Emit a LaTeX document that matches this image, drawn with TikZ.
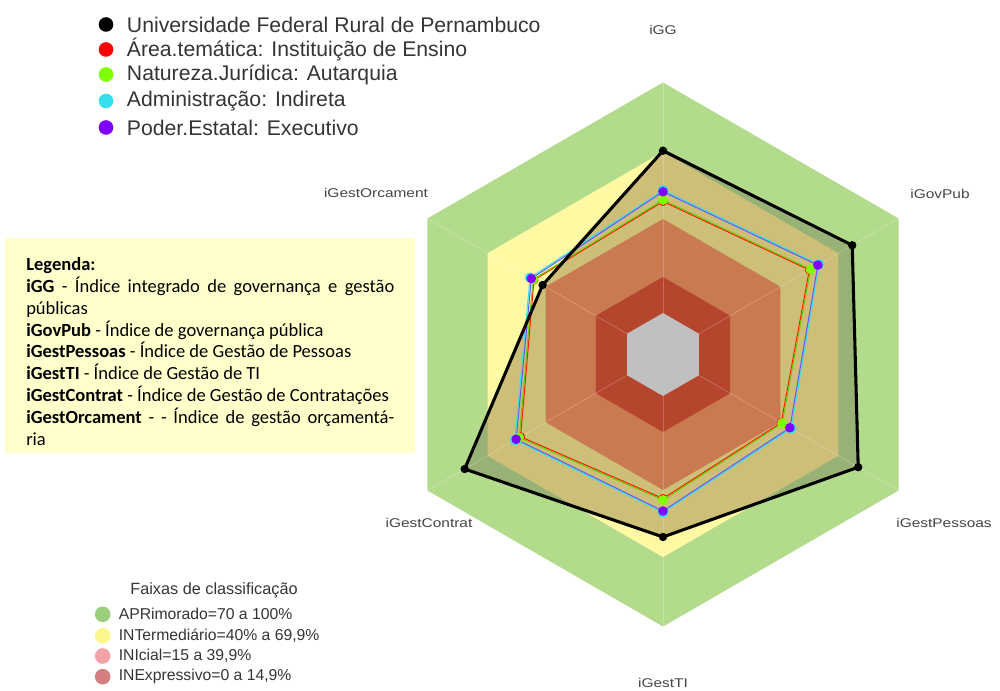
\documentclass[tikz,border=0pt]{standalone}
\usepackage{fontspec}
\setmainfont{Liberation Sans}
\newfontfamily\carlito{Carlito}
\definecolor{ringgreen}{HTML}{B2DC8C}
\definecolor{ringyellow}{HTML}{FFF9A3}
\definecolor{khaki}{HTML}{CDBE78}
\definecolor{darkgreen}{HTML}{97B274}
\definecolor{ringorange}{HTML}{C97A50}
\definecolor{ringred}{HTML}{B5452C}
\definecolor{ringgray}{HTML}{C0C0C0}
\definecolor{serred}{HTML}{FF0000}
\definecolor{serlime}{HTML}{80FF00}
\definecolor{sercyan}{HTML}{33E0F0}
\definecolor{serpurple}{HTML}{8000FF}
\definecolor{boxyellow}{HTML}{FFFFCC}
\definecolor{txtgray}{HTML}{353535}
\definecolor{labgray}{HTML}{454545}
\definecolor{legA}{HTML}{9CCF7C}
\definecolor{legB}{HTML}{FBF78C}
\definecolor{legC}{HTML}{F3A3A8}
\definecolor{legD}{HTML}{D57E82}
\newcommand{\myhex}[1]{(-90:#1) -- (-30:#1) -- (30:#1) -- (90:#1) -- (150:#1) -- (210:#1) -- cycle}
\tikzset{
  axlab/.style={font=\fontsize{9.5}{11}\selectfont, text=labgray, inner sep=0pt},
  toplab/.style={font=\fontsize{15.9}{18}\selectfont, text=txtgray, inner sep=0pt, anchor=west},
  botlab/.style={font=\fontsize{11.8}{14}\selectfont, text=txtgray, inner sep=0pt, anchor=west},
  thinser/.style={line width=0.75pt, line join=round},
  blackser/.style={line width=2.3pt, line join=round, black},
}
\begin{document}
\begin{tikzpicture}[x=0.75pt,y=-0.75pt]
\useasboundingbox (0,0) rectangle (1000,691);
\fill[white] (0,0) rectangle (1000,691);

% ---------------- radar ----------------
\begin{scope}[shift={(663,354.5)}]
  % data points
  \coordinate (b1) at (-90:203.8); \coordinate (b2) at (-30:218.5); \coordinate (b3) at (30:225.4);
  \coordinate (b4) at (90:182.5);  \coordinate (b5) at (150:229);   \coordinate (b6) at (210:139);
  \coordinate (p1) at (-90:162.8); \coordinate (p2) at (-30:178.8); \coordinate (p3) at (30:146.5);
  \coordinate (p4) at (90:156.5);  \coordinate (p5) at (150:169.5); \coordinate (p6) at (210:152);
  \coordinate (c1) at (-90:164.3); \coordinate (c2) at (-30:180.3); \coordinate (c3) at (30:148);
  \coordinate (c4) at (90:158);    \coordinate (c5) at (150:171);   \coordinate (c6) at (210:153.5);
  \coordinate (g1) at (-90:154.5); \coordinate (g2) at (-30:170.3); \coordinate (g3) at (30:137.6);
  \coordinate (g4) at (90:145.5);  \coordinate (g5) at (150:166);   \coordinate (g6) at (210:150);
  \coordinate (r1) at (-90:153);   \coordinate (r2) at (-30:169);   \coordinate (r3) at (30:136.5);
  \coordinate (r4) at (90:144);    \coordinate (r5) at (150:164.5); \coordinate (r6) at (210:149);

  \fill[ringgreen] \myhex{272};
  \fill[ringyellow] \myhex{202.6};
  \begin{scope}
    \clip (b1) -- (b2) -- (b3) -- (b4) -- (b5) -- (b6) -- cycle;
    \fill[darkgreen] \myhex{272};
    \fill[khaki] \myhex{202.6};
  \end{scope}
  \fill[ringorange] \myhex{135.5};
  \fill[ringred] \myhex{77.5};
  \fill[ringgray] \myhex{41.5};
  \foreach \a in {-90,-30,30,90,150,210}
    \draw[white, opacity=0.22, line width=0.6pt] (\a:41.5) -- (\a:272);

  % series lines
  \draw[thinser, serred!80!orange] (r1) -- (r2) -- (r3) -- (r4) -- (r5) -- (r6) -- cycle;
  \draw[thinser, serlime!80!black] (g1) -- (g2) -- (g3) -- (g4) -- (g5) -- (g6) -- cycle;
  \draw[thinser, sercyan] (c1) -- (c2) -- (c3) -- (c4) -- (c5) -- (c6) -- cycle;
  \draw[thinser, serpurple!60!sercyan] (p1) -- (p2) -- (p3) -- (p4) -- (p5) -- (p6) -- cycle;
  \draw[blackser] (b1) -- (b2) -- (b3) -- (b4) -- (b5) -- (b6) -- cycle;

  % series markers
  \foreach \n in {r1,r2,r3,r4,r5,r6} \fill[serred] (\n) circle (4.5);
  \foreach \n in {g1,g2,g3,g4,g5,g6} \fill[serlime] (\n) circle (5);
  \foreach \n in {c1,c2,c3,c4,c5,c6} \fill[sercyan] (\n) circle (5.3);
  \foreach \n in {p1,p2,p3,p4,p5,p6} \fill[serpurple] (\n) circle (4.8);
  \foreach \n in {b1,b2,b3,b4,b5,b6} \fill[black] (\n) circle (4.2);
\end{scope}

% axis labels
\node[axlab] (lGG) at (663,30) {\scalebox{1.22}[1]{iGG}};
\node[axlab] (lGov) at (940,194) {\scalebox{1.22}[1]{iGovPub}};
\node[axlab] (lPes) at (944,523) {\scalebox{1.22}[1]{iGestPessoas}};
\node[axlab] (lTI) at (663,683) {\scalebox{1.22}[1]{iGestTI}};
\node[axlab] (lCon) at (429,523) {\scalebox{1.22}[1]{iGestContrat}};
\node[axlab] (lOrc) at (376,193) {\scalebox{1.22}[1]{iGestOrcament}};

% top legend
\fill[black] (106,24.5) circle (7.3);
\fill[serred] (106,49.5) circle (7.3);
\fill[serlime] (106,74.5) circle (7.3);
\fill[sercyan] (106,101) circle (7.3);
\fill[serpurple] (106,127.5) circle (7.3);
\node[toplab] (t1) at (126.7,25) {Universidade Federal Rural de Pernambuco};
\node[toplab] (t2) at (126.7,50) {Área.temática: Instituição de Ensino};
\node[toplab] (t3) at (126.7,75) {Natureza.Jurídica: Autarquia};
\node[toplab] (t4) at (126.7,101.5) {Administração: Indireta};
\node[toplab] (t5) at (126.7,128) {Poder.Estatal: Executivo};

% legend box
\fill[boxyellow] (5,238) rectangle (415,453);
\node[anchor=base west, inner sep=0pt, align=left, text=black,
      font=\carlito\fontsize{13.9}{16.4}\selectfont] (leg) at (26,445.4)
{\textbf{Legenda:}\\
\makebox[276pt][s]{\textbf{iGG} - Índice integrado de governança e gestão}\\
públicas\\
\textbf{iGovPub} - Índice de governança pública\\
\textbf{iGestPessoas} - Índice de Gestão de Pessoas\\
\textbf{iGestTI} - Índice de Gestão de TI\\
\textbf{iGestContrat} - Índice de Gestão de Contratações\\
\makebox[276pt][s]{\textbf{iGestOrcament} - - Índice de gestão orçamentá-}\\
ria};

% bottom legend
\node[font=\fontsize{12.2}{14}\selectfont, text=txtgray, inner sep=0pt] (ftit) at (214,590) {Faixas de classificação};
\fill[legA] (102.7,614.3) circle (7.8);
\fill[legB] (102.7,635.7) circle (7.8);
\fill[legC] (102.7,656) circle (7.8);
\fill[legD] (102.7,676.7) circle (7.8);
\node[botlab] (f1) at (118.5,614.3) {APRimorado=70 a 100\%};
\node[botlab] (f2) at (118.5,635.7) {INTermediário=40\% a 69,9\%};
\node[botlab] (f3) at (118.5,656) {INIcial=15 a 39,9\%};
\node[botlab] (f4) at (118.5,676.7) {INExpressivo=0 a 14,9\%};
\end{tikzpicture}
\end{document}
